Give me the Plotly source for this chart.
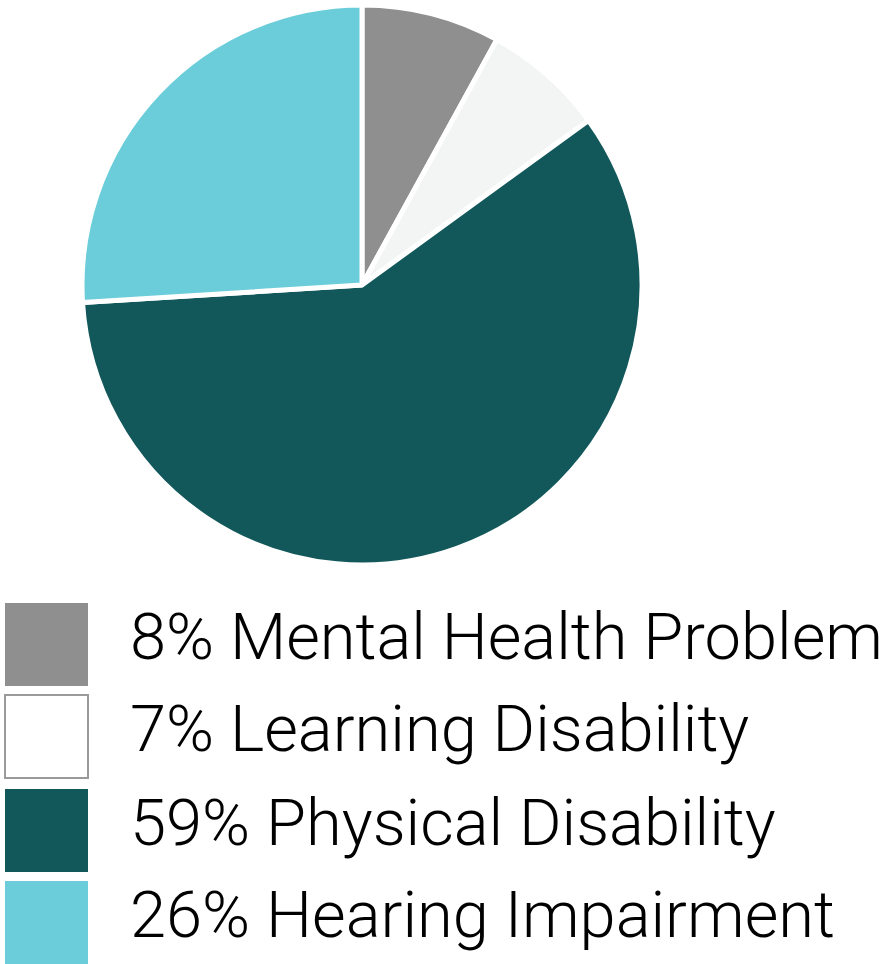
import plotly.graph_objects as go

# Share of respondents by type of disability
categories = ["Mental Health Problem", "Learning Disability", "Physical Disability", "Hearing Impairment"]
shares = [8, 7, 59, 26]
colors = ["#8f8f8f", "#f3f5f5", "#12585b", "#6bcdda"]
swatch_fill = ["#8f8f8f", "#ffffff", "#12585b", "#6bcdda"]
swatch_edge = [None, "#9a9a9a", None, None]

W, H = 890, 964

fig = go.Figure(
    go.Pie(
        labels=categories,
        values=shares,
        sort=False,
        direction="clockwise",
        rotation=0,
        marker=dict(colors=colors, line=dict(color="#ffffff", width=5)),
        textinfo="none",
        hoverinfo="label+percent",
        showlegend=False,
        domain=dict(x=[82 / W, 642 / W], y=[(H - 565) / H, (H - 5) / H]),
    )
)

# Hand-built legend: large square swatches with value + category text
row_top = [603, 695, 789, 881]
sw = 83
shapes = []
annotations = []
for i, (cat, v) in enumerate(zip(categories, shares)):
    y0 = row_top[i]
    edge = swatch_edge[i]
    shapes.append(dict(
        type="rect", xref="paper", yref="paper",
        x0=5 / W, x1=(5 + sw) / W,
        y0=(H - y0 - sw) / H, y1=(H - y0) / H,
        fillcolor=swatch_fill[i],
        line=dict(color=edge if edge else swatch_fill[i], width=2 if edge else 0),
        layer="above",
    ))
    annotations.append(dict(
        xref="paper", yref="paper",
        x=128 / W, y=(H - y0 - sw / 2 + 8) / H,
        xanchor="left", yanchor="middle",
        text=f"{v}% {cat}",
        showarrow=False,
        font=dict(family="Roboto, Liberation Sans, Arial, sans-serif", size=65,
                  weight=300, color="#000000"),
    ))

fig.update_layout(
    width=W, height=H,
    margin=dict(l=0, r=0, t=0, b=0),
    paper_bgcolor="#ffffff",
    plot_bgcolor="#ffffff",
    shapes=shapes,
    annotations=annotations,
)

fig.write_html("out.html")
